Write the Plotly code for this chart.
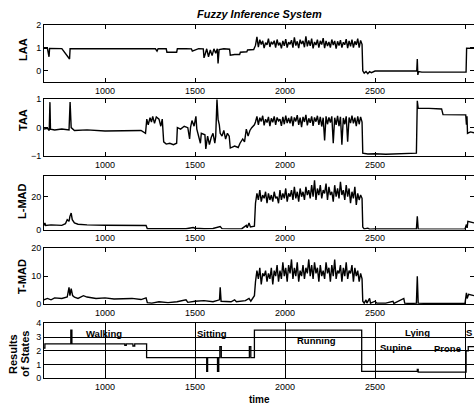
import plotly.graph_objects as go

# ---------------- data ----------------
# shared sampling times of the "Running" segment
run_t = [1836, 1844, 1852, 1860, 1868, 1876, 1884, 1892, 1900, 1908,
         1916, 1924, 1932, 1940, 1948, 1956, 1964, 1972, 1980, 1988,
         1996, 2004, 2012, 2020, 2028, 2036, 2044, 2052, 2060, 2068,
         2076, 2084, 2092, 2100, 2108, 2116, 2124, 2132, 2140, 2148,
         2156, 2164, 2172, 2180, 2188, 2196, 2204, 2212, 2220, 2228,
         2236, 2244, 2252, 2260, 2268, 2276, 2284, 2292, 2300, 2308,
         2316, 2324, 2332, 2340, 2348, 2356, 2364, 2372, 2380, 2388,
         2396, 2404, 2412, 2420, 2428]

# LAA
laa_pre_t = [661, 680, 689, 692, 760, 803, 806, 900, 972, 990,
             1011, 1100, 1200, 1280, 1289, 1295, 1340, 1344, 1398, 1402,
             1450, 1480, 1485, 1520, 1546, 1550, 1556, 1565, 1575, 1585,
             1595, 1605, 1615, 1624, 1628, 1634, 1660, 1692, 1696, 1720,
             1748, 1752, 1788, 1792, 1826, 1832]
laa_pre_v = [0.97, 0.97, 0.6, 0.97, 0.96, 0.5, 0.96, 0.95, 0.92, 0.95,
             0.96, 0.95, 0.95, 0.95, 0.85, 0.95, 0.95, 0.8, 0.8, 0.95,
             0.96, 0.95, 0.85, 0.96, 0.95, 0.55, 0.7, 0.95, 0.6, 0.9,
             0.65, 0.95, 0.75, 0.95, 0.3, 0.92, 0.95, 0.93, 0.67, 0.7,
             0.7, 0.8, 0.82, 0.9, 0.92, 1.0]
laa_run = [1.10, 1.48, 1.02, 1.35, 1.14, 1.30, 0.98, 1.22, 1.12, 1.40,
           1.03, 1.26, 1.15, 1.31, 1.00, 1.36, 1.10, 1.22, 0.97, 1.30,
           1.08, 1.38, 1.00, 1.24, 1.15, 1.33, 1.00, 1.45, 1.09, 1.28,
           0.98, 1.35, 1.16, 1.30, 1.02, 1.50, 1.06, 1.32, 1.08, 1.40,
           0.97, 1.25, 1.12, 1.35, 1.00, 1.30, 1.14, 1.42, 0.98, 1.30,
           1.07, 1.25, 1.00, 1.36, 1.12, 1.30, 0.96, 1.28, 1.09, 1.33,
           1.00, 1.24, 1.13, 1.38, 0.98, 1.30, 1.06, 1.35, 1.00, 1.28,
           1.12, 1.40, 1.00, 1.32, 1.15]
laa_post_t = [2432, 2440, 2450, 2460, 2470, 2480, 2500, 2600, 2700, 2732,
              2735, 2738, 2742, 2760, 2900, 3006, 3009, 3020, 3050]
laa_post_v = [-0.02, -0.12, -0.05, -0.15, -0.06, -0.1, -0.03, -0.02, -0.02, -0.02,
              0.5, -0.2, -0.05, -0.08, -0.08, -0.08, 0.98, 0.97, 0.97]

# TAA
taa_pre_t = [661, 680, 690, 694, 697, 720, 760, 800, 806, 812,
             830, 900, 1000, 1100, 1200, 1225, 1232, 1240, 1250, 1258,
             1265, 1275, 1285, 1300, 1310, 1318, 1326, 1340, 1360, 1380,
             1398, 1402, 1420, 1440, 1460, 1470, 1475, 1483, 1495, 1505,
             1510, 1530, 1535, 1555, 1560, 1570, 1580, 1590, 1600, 1610,
             1615, 1622, 1628, 1635, 1640, 1650, 1660, 1670, 1680, 1690,
             1696, 1720, 1740, 1750, 1765, 1775, 1785, 1795, 1805, 1815,
             1830]
taa_pre_v = [-0.05, -0.02, -0.1, 0.9, -0.05, -0.08, -0.05, -0.08, 0.9, 0.0,
             -0.1, -0.08, -0.12, -0.1, -0.1, -0.2, 0.3, 0.1, 0.35, 0.2,
             0.4, 0.15, 0.38, 0.3, 0.05, 0.3, -0.5, -0.58, -0.55, -0.6,
             -0.55, 0.0, -0.05, 0.05, 0.0, -0.4, 0.0, 0.25, 0.05, 0.4,
             -0.05, -0.55, -0.2, -0.25, -0.75, -0.3, -0.6, -0.35, -0.2, -0.55,
             -0.3, 1.0, 0.3, 0.1, -0.2, -0.3, -0.1, -0.4, -0.2, -0.3,
             -0.72, -0.65, -0.7, -0.55, -0.4, -0.5, -0.05, -0.3, -0.1, 0.0,
             0.1]
taa_run = [0.20, 0.40, 0.10, 0.35, 0.22, 0.42, 0.08, 0.30, 0.18, 0.38,
           0.05, 0.33, 0.19, 0.40, 0.10, 0.36, 0.24, 0.30, 0.06, 0.38,
           0.12, 0.42, 0.16, 0.34, 0.15, 0.40, 0.05, 0.36, 0.22, 0.44,
           0.10, 0.35, 0.02, 0.38, 0.20, 0.45, 0.08, 0.33, 0.17, 0.40,
           0.06, 0.36, 0.21, 0.42, 0.10, 0.38, 0.04, 0.35, -0.45, 0.40,
           0.12, 0.36, 0.18, 0.40, -0.55, 0.35, 0.10, 0.42, 0.05, 0.38,
           -0.60, 0.34, 0.12, 0.40, -0.50, 0.36, 0.16, 0.42, 0.15, 0.35,
           0.05, 0.40, 0.12, 0.38, 0.20]
taa_post_t = [2432, 2460, 2500, 2560, 2600, 2700, 2730, 2735, 2740, 2800,
              2870, 2878, 2950, 3004, 3008, 3011, 3014, 3030, 3050]
taa_post_v = [-0.9, -0.93, -0.92, -0.94, -0.93, -0.92, -0.9, 0.95, 0.68, 0.68,
              0.66, 0.46, 0.46, 0.45, 0.1, 0.4, -0.2, -0.15, -0.18]

# L-MAD
lmad_pre_t = [661, 666, 670, 700, 760, 780, 790, 800, 805, 812,
              818, 830, 850, 900, 1000, 1100, 1200, 1228, 1235, 1300,
              1400, 1450, 1490, 1500, 1550, 1600, 1640, 1650, 1700, 1760,
              1785, 1790, 1800, 1808, 1830]
lmad_pre_v = [2.5, 4, 2.5, 2.8, 2.5, 3.5, 6, 5, 8, 10,
              6, 4, 3.2, 2.8, 2.6, 2.5, 2.3, 2.4, 0.5, 0.4,
              0.6, 0.5, 1.2, 0.8, 0.5, 0.6, 1.8, 0.5, 0.4, 0.5,
              2.5, 1, 4, 1.5, 2]
lmad_run = [16, 22, 18, 24, 17, 21, 19, 23, 16, 22,
            18, 21, 17, 23, 19, 20, 16, 24, 18, 22,
            19, 25, 17, 22, 20, 24, 18, 26, 19, 23,
            17, 25, 20, 23, 18, 26, 21, 24, 19, 27,
            20, 30, 18, 25, 21, 27, 19, 24, 22, 28,
            18, 26, 21, 23, 17, 27, 20, 25, 19, 29,
            21, 24, 18, 27, 20, 25, 16, 23, 19, 26,
            15, 22, 18, 21, 19]
lmad_post_t = [2432, 2440, 2460, 2470, 2500, 2550, 2600, 2650, 2700, 2730,
               2735, 2740, 2800, 2900, 3000, 3008, 3012, 3016, 3030, 3050]
lmad_post_v = [1.5, 0.3, 0.8, 0.2, 0.3, 0.2, 0.5, 0.2, 0.3, 0.3,
               8, 0.3, 0.2, 0.2, 0.3, 3, 1, 5, 4.5, 4]

# T-MAD
tmad_pre_t = [661, 680, 700, 720, 760, 790, 800, 805, 812, 820,
              830, 850, 880, 900, 950, 1000, 1050, 1100, 1150, 1200,
              1228, 1235, 1260, 1300, 1350, 1400, 1450, 1460, 1500, 1550,
              1600, 1636, 1640, 1645, 1700, 1720, 1730, 1780, 1800, 1810,
              1830]
tmad_pre_v = [1.5, 2, 1.5, 2.2, 2, 2.5, 6, 3, 5.5, 3,
              2.5, 2, 3, 2.5, 2, 2.2, 1.8, 2, 2, 1.6,
              2.2, 0.5, 0.3, 0.8, 0.5, 0.8, 1.5, 0.6, 1, 1.2,
              0.8, 1.5, 6, 1, 0.8, 1.5, 0.8, 1.2, 2, 1,
              3]
tmad_run = [8, 12, 9, 13, 7, 11, 10, 12, 8, 11,
            9, 13, 7, 12, 10, 14, 8, 12, 9, 15,
            10, 13, 8, 14, 11, 16, 9, 13, 10, 15,
            8, 12, 10, 14, 9, 13, 11, 16, 10, 14,
            9, 15, 11, 13, 8, 14, 10, 12, 9, 15,
            11, 13, 8, 14, 10, 16, 9, 12, 11, 14,
            8, 13, 10, 15, 9, 12, 11, 14, 8, 13,
            10, 12, 8, 11, 9]
tmad_post_t = [2432, 2440, 2450, 2455, 2470, 2475, 2500, 2510, 2560, 2600,
               2605, 2660, 2665, 2700, 2730, 2735, 2740, 2800, 2900, 3000,
               3008, 3012, 3020, 3050]
tmad_post_v = [1, 0.3, 1.5, 0.3, 2, 0.3, 1, 0.3, 0.3, 1,
               0.2, 2, 0.3, 0.2, 0.3, 10, 0.3, 0.2, 0.3, 0.2,
               4, 2, 3.5, 3]

# Results of States (step signal)
res_t = [661, 666, 810, 816, 1110, 1118, 1155, 1165, 1231, 1565,
         1570, 1625, 1632, 1638, 1646, 1802, 1810, 1830, 2426, 2735,
         2740, 3006, 3018, 3050]
res_v = [2.2, 2.5, 3.5, 2.5, 2.4, 2.5, 2.35, 2.5, 1.5, 0.5,
         1.5, 0.5, 1.5, 2.3, 1.5, 2.3, 1.5, 3.5, 0.5, 0.65,
         0.45, 2.0, 2.3, 2.3]

state_labels = ["Walking", "Sitting", "Running", "Lying", "Supine", "Prone", "S"]
state_x = [995, 1594, 2177, 2736, 2614, 2900, 3049]
state_y = [3.25, 3.25, 2.75, 3.3, 2.25, 2.2, 3.3]

panel_names = ["LAA", "TAA", "L-MAD", "T-MAD"]
x_ticks = [1000, 1500, 2000, 2500, 3000]
x_range = [661, 3050]

# ---------------- figure ----------------
W, H = 474, 405
L = 44
font_fam = "Liberation Sans, Arial, Helvetica, sans-serif"

# panel pixel extents (top, bottom)
panels = [(25, 81.7), (99.3, 156), (176, 229.5), (248.3, 304), (323.3, 378.3)]
y_ranges = [[-0.5, 2], [-1, 1], [0, 32.6], [0, 20], [0, 4]]
y_ticks = [[0, 1, 2], [-1, 0, 1], [0, 20], [0, 10, 20], [0, 1, 2, 3, 4]]

series = [
    (laa_pre_t + run_t + laa_post_t, laa_pre_v + laa_run + laa_post_v),
    (taa_pre_t + run_t + taa_post_t, taa_pre_v + taa_run + taa_post_v),
    (lmad_pre_t + run_t + lmad_post_t, lmad_pre_v + lmad_run + lmad_post_v),
    (tmad_pre_t + run_t + tmad_post_t, tmad_pre_v + tmad_run + tmad_post_v),
    (res_t, res_v),
]

fig = go.Figure()
layout = dict(
    width=W, height=H,
    margin=dict(l=L, r=0, t=0, b=0, pad=0, autoexpand=False),
    paper_bgcolor="white", plot_bgcolor="white",
    showlegend=False,
    font=dict(family=font_fam, color="black", size=9),
)

for i, (xs, ys) in enumerate(series):
    n = i + 1
    xa = "x" if n == 1 else f"x{n}"
    ya = "y" if n == 1 else f"y{n}"
    fig.add_trace(go.Scatter(
        x=xs, y=ys, mode="lines", xaxis=xa, yaxis=ya,
        line=dict(color="black", width=1.4 if n < 5 else 1.3,
                  shape="hv" if n == 5 else "linear"),
        hoverinfo="skip",
    ))
    top, bot = panels[i]
    grid = (n == 5)
    layout["xaxis" if n == 1 else f"xaxis{n}"] = dict(
        domain=[0, 1], anchor=ya, range=x_range, tickvals=x_ticks,
        ticks="inside", ticklen=4, tickcolor="black", tickwidth=1,
        showline=True, linecolor="black", linewidth=1, mirror="ticks",
        showgrid=grid, gridcolor="black", gridwidth=1, zeroline=False,
        automargin=False,
        tickfont=dict(size=9, color="black", family=font_fam),
    )
    layout["yaxis" if n == 1 else f"yaxis{n}"] = dict(
        domain=[1 - bot / H, 1 - top / H], anchor=xa, range=y_ranges[i],
        tickvals=y_ticks[i],
        ticks="inside", ticklen=4, tickcolor="black", tickwidth=1,
        showline=True, linecolor="black", linewidth=1, mirror="ticks",
        showgrid=grid, gridcolor="black", gridwidth=1, zeroline=False,
        automargin=False,
        tickfont=dict(size=9, color="black", family=font_fam),
    )

fig.update_layout(**layout)


def px_x(p):
    return (p - L) / (W - L)


def px_y(p):
    return 1 - p / H


def paper_text(text, px, py, size, angle=0):
    return dict(text=text, x=px_x(px), y=px_y(py), xref="paper", yref="paper",
                xanchor="center", yanchor="middle", showarrow=False,
                textangle=angle, font=dict(size=size, family=font_fam, color="black"))


ann = []
ann.append(paper_text("<b><i>Fuzzy Inference System</i></b>", 259, 14, 11))
ann.append(paper_text("<b>time</b>", 259, 399, 10))
ylab_pos = [(23, 50), (23, 120), (22, 202), (22, 277)]
for name, (px, py) in zip(panel_names, ylab_pos):
    ann.append(paper_text(f"<b>{name}</b>", px, py, 11, -90))
ann.append(paper_text("<b>Results</b>", 13, 354, 11, -90))
ann.append(paper_text("<b>of States</b>", 25, 354, 11, -90))

for lab, sx, sy in zip(state_labels, state_x, state_y):
    ann.append(dict(text=f"<b>{lab}</b>", x=sx, y=sy, xref="x5", yref="y5",
                    showarrow=False, xanchor="right" if lab == "S" else "center",
                    yanchor="middle",
                    font=dict(size=9.5, family=font_fam, color="black")))

fig.update_layout(annotations=ann)
fig.write_html("out.html", config={"displayModeBar": False},
               post_script="document.body.style.margin='0';")
